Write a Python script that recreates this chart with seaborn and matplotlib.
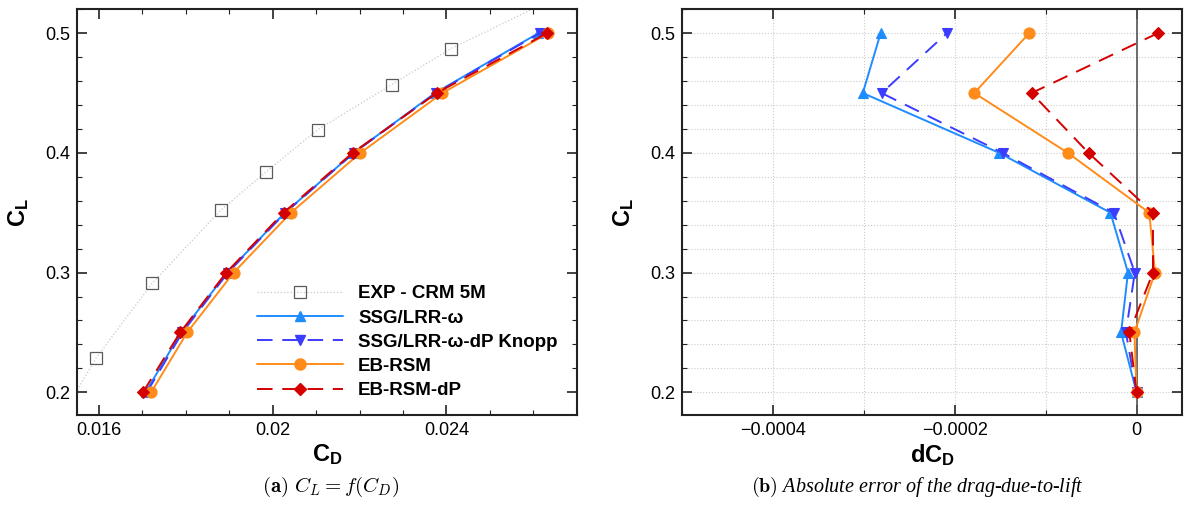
"""
Lift polar C_L = f(C_D) and drag-due-to-lift error for the RSM variants vs. experiment.
"""
import matplotlib
matplotlib.use("Agg")
import matplotlib.pyplot as plt
import seaborn as sns
from matplotlib.lines import Line2D
from matplotlib.ticker import MultipleLocator, FuncFormatter

cl = [0.2, 0.25, 0.3, 0.35, 0.4, 0.45, 0.5]

# experiment (CRM 5M) and the dotted fit through it, extended past the frame
exp_cd = [0.01594, 0.01722, 0.01880, 0.01984, 0.02104, 0.02274, 0.02410]
exp_cl = [0.229, 0.291, 0.352, 0.384, 0.4195, 0.457, 0.487]
fit_cd = [0.01530] + exp_cd + [0.02620]
fit_cl = [0.190] + exp_cl + [0.524]

cd_ssg = [0.01707, 0.01789, 0.01895, 0.02028, 0.02186, 0.02374, 0.02612]
cd_ssg_dp = [0.01710, 0.01792, 0.01897, 0.02029, 0.02187, 0.02376, 0.02615]
cd_eb = [0.01720, 0.01803, 0.01910, 0.02042, 0.02202, 0.02391, 0.02635]
cd_eb_dp = [0.01701, 0.01787, 0.01893, 0.02025, 0.02184, 0.02378, 0.02632]

dcd_ssg = [0.0, -0.0000170, -0.0000094, -0.0000287, -0.0001510, -0.0003011, -0.0002815]
dcd_ssg_dp = [0.0, -0.0000117, -0.0000019, -0.0000249, -0.0001472, -0.0002804, -0.0002087]
dcd_eb = [0.0, -0.0000023, 0.0000204, 0.0000140, -0.0000755, -0.0001785, -0.0001181]
dcd_eb_dp = [0.0, -0.0000079, 0.0000181, 0.0000181, -0.0000528, -0.0001155, 0.0000234]

labels = ["SSG/LRR-ω", "SSG/LRR-ω-dP Knopp", "EB-RSM", "EB-RSM-dP"]
colors = ["#1e8cff", "#3c3cff", "#ff8c1a", "#d40000"]
markers = ["^", "v", "o", "D"]
msizes = [7, 7, 8, 6]
dashed = [False, True, False, True]

sns.set_theme(style="ticks")
plt.rcParams["font.family"] = ["Liberation Sans", "DejaVu Sans"]
plt.rcParams["mathtext.fontset"] = "custom"
plt.rcParams["mathtext.rm"] = "Liberation Sans"
plt.rcParams["mathtext.it"] = "Liberation Sans:italic"
plt.rcParams["mathtext.bf"] = "Liberation Sans:bold"
plt.rcParams["text.color"] = "black"
plt.rcParams["axes.labelcolor"] = "black"

fig = plt.figure(figsize=(11.84, 5.15), dpi=100)
ax1 = fig.add_axes([0.0650, 0.1942, 0.4223, 0.7878])
ax2 = fig.add_axes([0.5760, 0.1942, 0.4223, 0.7878])

fmt = FuncFormatter(lambda v, _: ("%g" % v).replace("-", "\u2212"))

# --- (a) polar
sns.lineplot(x=fit_cd, y=fit_cl, ax=ax1, color="#c8c8c8", linestyle=":",
             linewidth=0.9, sort=False, estimator=None)
sns.lineplot(x=exp_cd, y=exp_cl, ax=ax1, color="#5a5a5a", linestyle="none",
             marker="s", markersize=8.5, markerfacecolor="none",
             markeredgecolor="#5a5a5a", markeredgewidth=0.9, sort=False, estimator=None)

cds = [cd_ssg, cd_ssg_dp, cd_eb, cd_eb_dp]
dcds = [dcd_ssg, dcd_ssg_dp, dcd_eb, dcd_eb_dp]
for i in range(4):
    ls = (0, (8, 5)) if dashed[i] else "-"
    for ax, xs in ((ax1, cds[i]), (ax2, dcds[i])):
        sns.lineplot(x=xs, y=cl, ax=ax, color=colors[i], linestyle=ls, linewidth=1.4,
                     marker=markers[i], markersize=msizes[i], markeredgecolor=colors[i],
                     markeredgewidth=0.8, sort=False, estimator=None, zorder=3 + i)

ax1.set_xlim(0.01549, 0.02701)
ax1.xaxis.set_major_locator(MultipleLocator(0.004))
ax1.xaxis.set_minor_locator(MultipleLocator(0.001))
ax1.set_xlabel(r"$\mathbf{C_D}$", fontsize=17, labelpad=2)

# --- (b) drag-due-to-lift error
ax2.axvline(0, color="#555555", linewidth=1.2, zorder=1)
ax2.set_xlim(-0.0005, 0.00005)
ax2.xaxis.set_major_locator(MultipleLocator(0.0002))
ax2.xaxis.set_minor_locator(MultipleLocator(0.0001))
ax2.grid(which="both", color="#cccccc", linestyle=":", linewidth=0.8)
ax2.set_axisbelow(True)
ax2.set_xlabel(r"$\mathbf{dC_D}$", fontsize=17, labelpad=2)

for ax in (ax1, ax2):
    ax.set_ylim(0.181, 0.52)
    ax.yaxis.set_major_locator(MultipleLocator(0.1))
    ax.yaxis.set_minor_locator(MultipleLocator(0.02))
    ax.xaxis.set_major_formatter(fmt)
    ax.yaxis.set_major_formatter(fmt)
    ax.set_ylabel(r"$\mathbf{C_L}$", fontsize=17, labelpad=10)
    ax.tick_params(which="both", direction="in", top=True, right=True,
                   colors="#222222", labelcolor="black", labelsize=13)
    ax.tick_params(which="major", length=7, width=1.2, pad=5)
    ax.tick_params(which="minor", length=3.5, width=0.8)
    for s in ax.spines.values():
        s.set_linewidth(1.5)
        s.set_color("#222222")

handles = [Line2D([], [], color="#c8c8c8", linestyle=":", linewidth=0.9, marker="s",
                  markersize=8.5, markerfacecolor="none", markeredgecolor="#5a5a5a",
                  markeredgewidth=0.9)]
for i in range(4):
    handles.append(Line2D([], [], color=colors[i], linewidth=1.4,
                          linestyle=(0, (8, 5)) if dashed[i] else "-",
                          marker=markers[i], markersize=msizes[i],
                          markeredgecolor=colors[i]))
ax1.legend(handles, ["EXP - CRM 5M"] + labels, loc="upper left",
           bbox_to_anchor=(0.36, 0.32), frameon=False, handlelength=4.6,
           handletextpad=0.8, labelspacing=0.38, borderpad=0, borderaxespad=0,
           prop={"weight": "bold", "size": 13.5})

fig.text(0.279, 0.055, r"$\mathbf{(a)}$ $C_L = f(C_D)$", ha="center", va="center",
         fontsize=15, math_fontfamily="cm", family="DejaVu Serif")
fig.text(0.775, 0.055, r"$\mathbf{(b)}$ Absolute error of the drag-due-to-lift",
         ha="center", va="center", fontsize=14.5, math_fontfamily="cm",
         family="Liberation Serif", style="italic")

fig.savefig("out.png", dpi=100)
plt.close(fig)
